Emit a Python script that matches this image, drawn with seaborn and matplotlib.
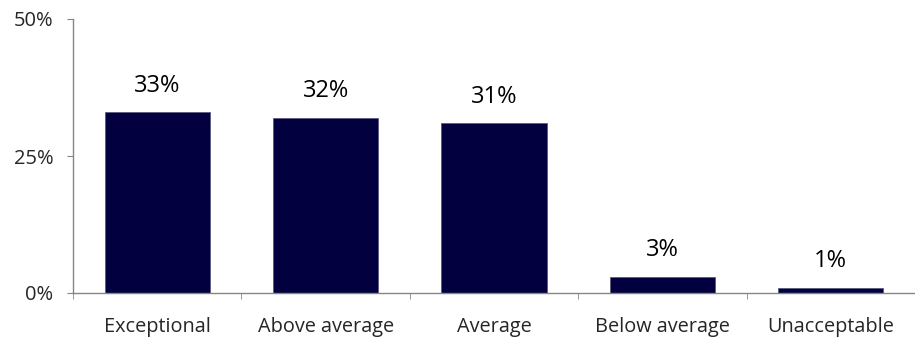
import matplotlib
matplotlib.use("Agg")
import matplotlib.pyplot as plt
import pandas as pd
import seaborn as sns
from matplotlib.ticker import FixedLocator, PercentFormatter

categories = ["Exceptional", "Above average", "Average", "Below average", "Unacceptable"]
shares = [33, 32, 31, 3, 1]
y_ticks = [0, 25, 50]

df = pd.DataFrame({"rating": categories, "share": shares})

sns.set_style("white")
plt.rcParams["font.family"] = ["Open Sans", "DejaVu Sans"]

fig = plt.figure(figsize=(9.15, 3.39), dpi=100)
ax = fig.add_axes([73 / 915, 46 / 339, 842 / 915, 274 / 339])

sns.barplot(data=df, x="rating", y="share", color="#02003F", width=0.625,
            edgecolor="#5a5a80", linewidth=0.6, saturation=1, ax=ax)

for i, v in enumerate(shares):
    ax.text(i, v + 2.6, f"{v}%", ha="center", va="bottom", fontsize=17, color="black")

ax.set_ylim(0, 50)
ax.set_xlim(-0.5, len(categories) - 0.5)
ax.set_yticks(y_ticks)
ax.yaxis.set_major_formatter(PercentFormatter(decimals=0))
ax.xaxis.set_minor_locator(FixedLocator([i - 0.5 for i in range(len(categories) + 1)]))
ax.tick_params(axis="x", which="major", length=0, pad=17, labelsize=14.3)
ax.tick_params(axis="x", which="minor", length=4.3, color="#868686", direction="out", bottom=True)
ax.tick_params(axis="y", length=4.3, color="#868686", direction="out", left=True, labelsize=14.5, pad=10)
ax.set_xlabel("")
ax.set_ylabel("")
for side in ["top", "right"]:
    ax.spines[side].set_visible(False)
for side in ["left", "bottom"]:
    ax.spines[side].set_color("#868686")
    ax.spines[side].set_linewidth(1.0)

fig.savefig("out.png", dpi=100)
